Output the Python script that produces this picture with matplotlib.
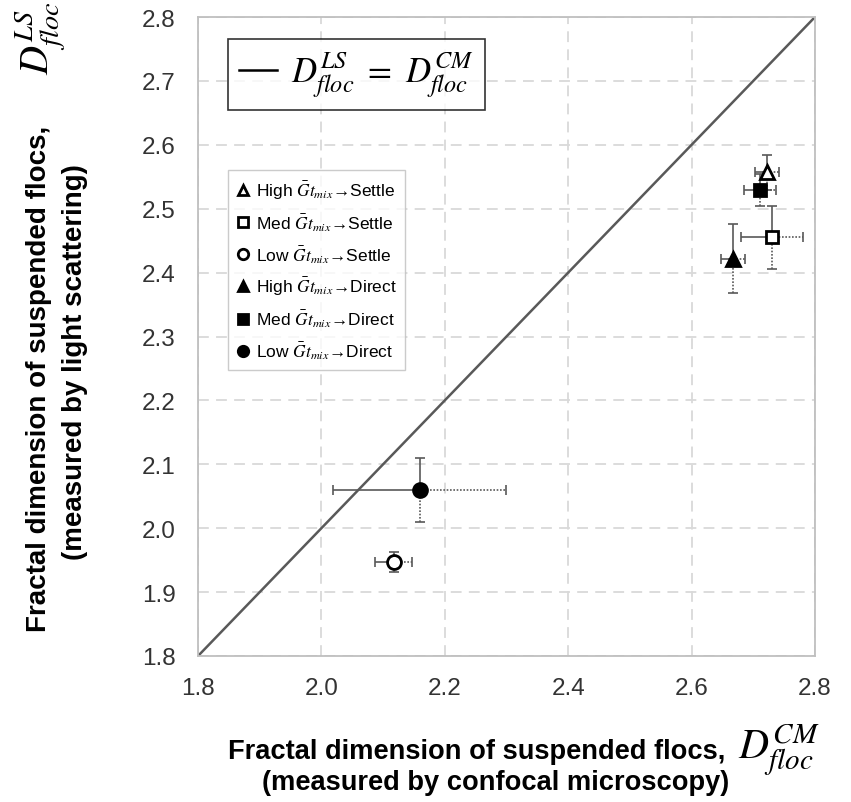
import matplotlib
matplotlib.use('Agg')
import numpy as np
from matplotlib import pyplot as plt

plt.rcParams['font.family'] = ['Liberation Sans', 'DejaVu Sans']
plt.rcParams['mathtext.fontset'] = 'stix'

# data
labels = ['High', 'Med', 'Low', 'High', 'Med', 'Low']
routes = ['Settle', 'Settle', 'Settle', 'Direct', 'Direct', 'Direct']
markers = ['^', 's', 'o', '^', 's', 'o']
filled = [False, False, False, True, True, True]
d_cm = [2.722, 2.730, 2.117, 2.667, 2.711, 2.159]
d_ls = [2.557, 2.455, 1.947, 2.422, 2.529, 2.060]
err_cm = [0.020, 0.050, 0.030, 0.020, 0.026, 0.140]
err_ls = [0.027, 0.049, 0.015, 0.054, 0.025, 0.050]

fig = plt.figure(figsize=(8.51, 8.03), dpi=100)
ax = fig.add_axes([198/851, 146/803, 617/851, 639/803])

ax.set_xlim(1.8, 2.8)
ax.set_ylim(1.8, 2.8)
ax.set_xticks(np.arange(1.8, 2.81, 0.2))
ax.set_yticks(np.arange(1.8, 2.81, 0.1))
ax.set_xticklabels(['%.1f' % v for v in np.arange(1.8, 2.81, 0.2)])
ax.set_yticklabels(['%.1f' % v for v in np.arange(1.8, 2.81, 0.1)])
ax.grid(True, color='#d9d9d9', linestyle=(0, (6, 4)), linewidth=1.3)
ax.set_axisbelow(True)
for s in ax.spines.values():
    s.set_color('#bfbfbf')
    s.set_linewidth(1.3)
ax.tick_params(axis='both', length=0, labelsize=17.5, labelcolor='#333333')
ax.tick_params(axis='x', pad=15)
ax.tick_params(axis='y', pad=16)

# 1:1 line
line, = ax.plot([1.8, 2.8], [1.8, 2.8], color='#595959', lw=1.8, zorder=2)

handles = []
for i in range(len(d_cm)):
    x, y, ex, ey = d_cm[i], d_ls[i], err_cm[i], err_ls[i]
    # solid: minus side in x, plus side in y; dotted on the others
    ax.errorbar(x, y, xerr=[[ex], [0]], yerr=[[0], [ey]], fmt='none',
                ecolor='#595959', elinewidth=1.2, capsize=3.5, capthick=1.2, zorder=3)
    eb = ax.errorbar(x, y, xerr=[[0], [ex]], yerr=[[ey], [0]], fmt='none',
                     ecolor='#595959', elinewidth=1.2, capsize=3.5, capthick=1.2, zorder=3)
    for lc in eb[2]:
        lc.set_linestyle((0, (1, 1)))
    h, = ax.plot(x, y, marker=markers[i], ms=10 if markers[i] != 's' else 9,
                 mfc='black' if filled[i] else 'white', mec='black', mew=2,
                 linestyle='none', zorder=4,
                 label=labels[i] + r' $\bar{G}t_{mix}$' + '\u2192' + routes[i])
    handles.append(h)

leg1 = ax.legend([line], [r'$D_{floc}^{LS}\ =\ D_{floc}^{CM}$'], loc='upper left',
                 bbox_to_anchor=(30/617, 1 - 22/639), fontsize=25, frameon=True,
                 fancybox=False, edgecolor='black', handlelength=1.1,
                 borderpad=0.32, handletextpad=0.4, borderaxespad=0)
leg1.get_frame().set_linewidth(1.2)
leg1.get_lines()[0].set_color('black')
ax.add_artist(leg1)

leg2 = ax.legend(handles=handles, loc='upper left', bbox_to_anchor=(30/617, 1 - 153/639),
                 fontsize=12.5, frameon=True, fancybox=False, edgecolor='#bfbfbf',
                 handlelength=0.7, handletextpad=0.4, labelspacing=0.6,
                 borderpad=0.5, borderaxespad=0, markerscale=0.75)
leg2.get_frame().set_linewidth(1.0)

# axis titles
fig.text(228/851, 1 - 752/803, 'Fractal dimension of suspended flocs,',
         fontsize=19.6, fontweight='bold', ha='left', va='center')
fig.text(738/851, 1 - 750/803, r'$D_{floc}^{CM}$', fontsize=30, ha='left', va='center')
fig.text(496/851, 1 - 783/803, '(measured by confocal microscopy)',
         fontsize=19.6, fontweight='bold', ha='center', va='center')
fig.text(39/851, 1 - 632/803, 'Fractal dimension of suspended flocs,',
         fontsize=20, fontweight='bold', ha='center', va='bottom', rotation=90)
fig.text(41/851, 1 - 2/803, r'$D_{floc}^{LS}$', fontsize=29, ha='center', va='top',
         rotation=90)
fig.text(75/851, 1 - 560/803, '(measured by light scattering)',
         fontsize=20, fontweight='bold', ha='center', va='bottom', rotation=90)

fig.savefig('out.png', dpi=100)
